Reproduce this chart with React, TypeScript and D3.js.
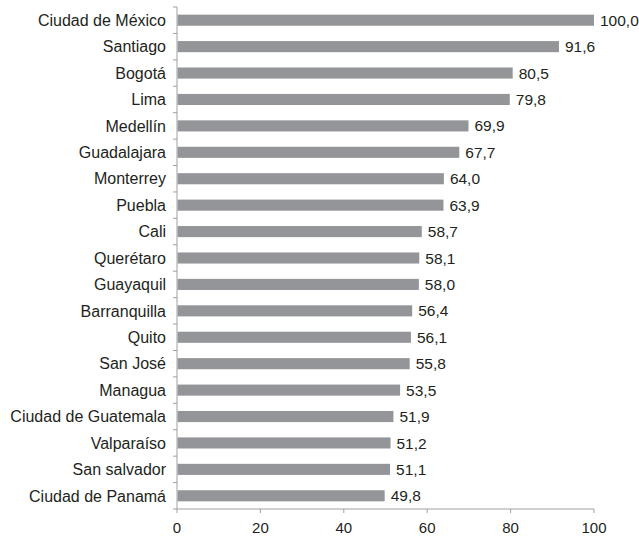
import React, { useEffect, useRef } from "react";
import * as d3 from "d3";

const cities = [
  "Ciudad de México", "Santiago", "Bogotá", "Lima", "Medellín", "Guadalajara",
  "Monterrey", "Puebla", "Cali", "Querétaro", "Guayaquil", "Barranquilla",
  "Quito", "San José", "Managua", "Ciudad de Guatemala", "Valparaíso",
  "San salvador", "Ciudad de Panamá",
];
const values = [100.0, 91.6, 80.5, 79.8, 69.9, 67.7, 64.0, 63.9, 58.7, 58.1, 58.0, 56.4, 56.1, 55.8, 53.5, 51.9, 51.2, 51.1, 49.8];
const xTicks = [0, 20, 40, 60, 80, 100];

const W = 639, H = 537;
const M = { left: 177, right: 45, top: 7, bottom: 28 };

export default function App() {
  const ref = useRef<SVGSVGElement>(null);
  useEffect(() => {
    const svg = d3.select(ref.current);
    svg.selectAll("*").remove();
    const font = "'Liberation Sans', Arial, Helvetica, sans-serif";
    const textColor = "#231f20";
    const axisColor = "#a0a0a0";
    const x = d3.scaleLinear().domain([0, 100]).range([M.left, W - M.right]);
    const y = d3.scaleBand().domain(cities).range([M.top, H - M.bottom]).paddingInner(0.58).paddingOuter(0.29);
    const step = y.step();
    const yTop = M.top, yBot = H - M.bottom;

    svg.append("g").selectAll("rect").data(cities).join("rect")
      .attr("x", x(0) + 0.5)
      .attr("y", (d) => y(d)!)
      .attr("width", (d, i) => x(values[i]) - x(0) - 0.5)
      .attr("height", y.bandwidth())
      .attr("fill", "#939598");

    svg.append("g").selectAll("text").data(cities).join("text")
      .attr("x", (d, i) => x(values[i]) + 6)
      .attr("y", (d) => y(d)! + y.bandwidth() / 2)
      .attr("dy", "0.36em")
      .attr("font-family", font).attr("font-size", 15.5).attr("fill", textColor)
      .text((d, i) => values[i].toFixed(1).replace(".", ","));

    const gy = svg.append("g");
    gy.append("line").attr("x1", x(0)).attr("x2", x(0)).attr("y1", yTop).attr("y2", yBot)
      .attr("stroke", axisColor).attr("stroke-width", 1);
    const boundaries = d3.range(cities.length + 1).map((i) => yTop + i * step);
    gy.selectAll("line.t").data(boundaries).join("line").attr("class", "t")
      .attr("x1", x(0) - 4).attr("x2", x(0)).attr("y1", (d) => d).attr("y2", (d) => d)
      .attr("stroke", axisColor);
    gy.selectAll("text").data(cities).join("text")
      .attr("x", x(0) - 11)
      .attr("y", (d) => y(d)! + y.bandwidth() / 2)
      .attr("dy", "0.36em")
      .attr("text-anchor", "end")
      .attr("font-family", font).attr("font-size", 16).attr("fill", textColor)
      .text((d) => d);

    const gx = svg.append("g");
    gx.append("line").attr("x1", x(0)).attr("x2", x(100)).attr("y1", yBot).attr("y2", yBot)
      .attr("stroke", axisColor);
    gx.selectAll("line.t").data(xTicks).join("line").attr("class", "t")
      .attr("x1", (d) => x(d)).attr("x2", (d) => x(d)).attr("y1", yBot).attr("y2", yBot + 4)
      .attr("stroke", axisColor);
    gx.selectAll("text").data(xTicks).join("text")
      .attr("x", (d) => x(d)).attr("y", yBot + 24)
      .attr("text-anchor", "middle")
      .attr("font-family", font).attr("font-size", 15).attr("fill", textColor)
      .text((d) => String(d));
  }, []);
  return (
    <svg ref={ref} width={W} height={H} style={{ position: "absolute", left: 0, top: 0, background: "#fff" }} />
  );
}
